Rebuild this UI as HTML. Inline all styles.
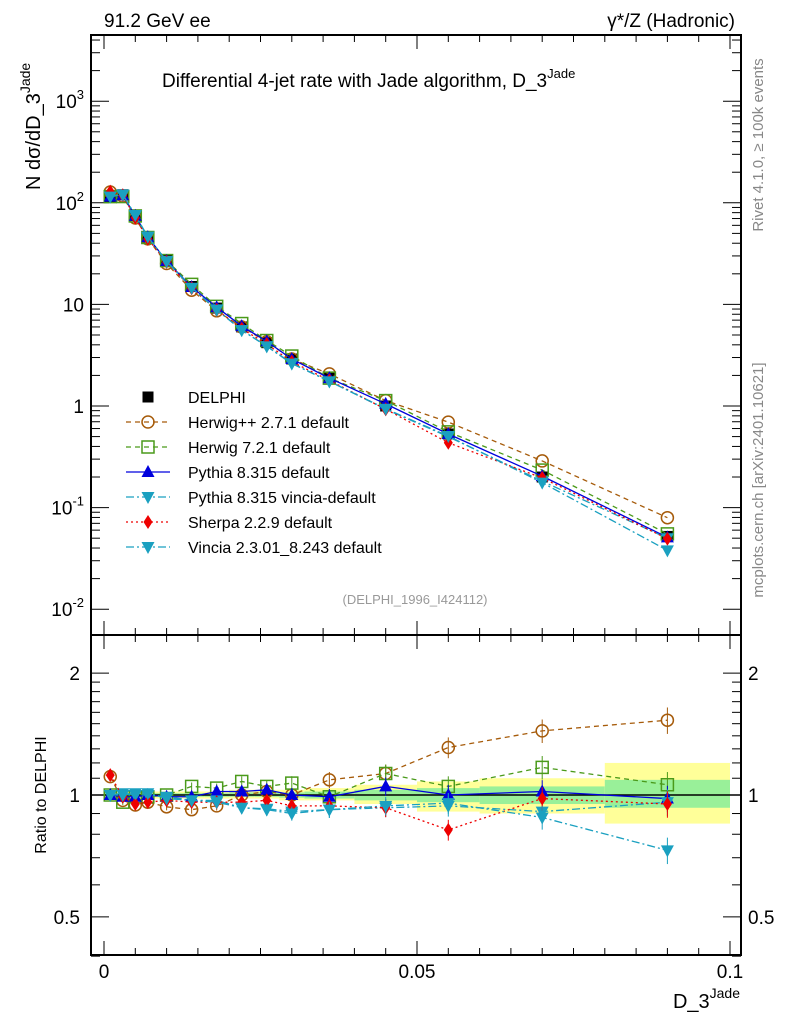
<!DOCTYPE html>
<html><head><meta charset="utf-8"><style>
body{margin:0;background:#fff}
svg{display:block;font-family:"Liberation Sans",sans-serif}
</style></head><body>
<svg id="chart" width="786" height="1024" viewBox="0 0 786 1024" xmlns="http://www.w3.org/2000/svg">
<g id="bands"></g>
<g id="frames"></g>
<g id="series"></g>
<g id="texts">
<text x="104" y="27" font-size="19">91.2 GeV ee</text>
<text x="735" y="27" font-size="19" text-anchor="end">γ*/Z (Hadronic)</text>
<text x="162" y="87" font-size="19">Differential 4-jet rate with Jade algorithm, D_3<tspan dy="-9" font-size="13">Jade</tspan></text>
<text x="415" y="604" font-size="13" fill="#999" text-anchor="middle">(DELPHI_1996_I424112)</text>
<text transform="translate(763,145) rotate(-90)" font-size="15" fill="#888" text-anchor="middle">Rivet 4.1.0, ≥ 100k events</text>
<text transform="translate(763,480) rotate(-90)" font-size="15" fill="#888" text-anchor="middle">mcplots.cern.ch [arXiv:2401.10621]</text>
<text transform="translate(40,190) rotate(-90)" font-size="20" text-anchor="start">N  dσ/dD_3<tspan dy="-10" font-size="14">Jade</tspan></text>
<text transform="translate(46,795) rotate(-90)" font-size="16" text-anchor="middle">Ratio to DELPHI</text>
<text x="740" y="1008" font-size="20" text-anchor="end">D_3<tspan dy="-10" font-size="14">Jade</tspan></text>
</g>
<g id="legend"></g>
</svg>
<script>
const NS="http://www.w3.org/2000/svg";
const xCenters=[0.001,0.003,0.005,0.007,0.01,0.014,0.018,0.022,0.026,0.03,0.036,0.045,0.055,0.07,0.09];
const dataVals=[115,120,75,46,27,15,9.2,6.0,4.2,2.9,1.9,1.0,0.53,0.2,0.052];
const bandEdges=[0,0.002,0.004,0.006,0.008,0.012,0.016,0.020,0.024,0.028,0.032,0.040,0.050,0.060,0.080,0.100];
const yellowLo=[0.98,0.98,0.98,0.98,0.98,0.98,0.98,0.98,0.98,0.97,0.97,0.95,0.91,0.9,0.85];
const yellowHi=[1.02,1.02,1.02,1.02,1.02,1.02,1.02,1.03,1.03,1.03,1.04,1.06,1.08,1.1,1.2];
const greenLo=[0.99,0.99,0.99,0.99,0.99,0.99,0.99,0.99,0.99,0.985,0.98,0.97,0.96,0.95,0.93];
const greenHi=[1.01,1.01,1.01,1.01,1.01,1.01,1.01,1.015,1.015,1.015,1.02,1.03,1.04,1.05,1.09];
const herwigPPRatio=[1.11,0.97,0.945,0.96,0.935,0.92,0.94,1.0,1.02,1.0,1.09,1.13,1.31,1.44,1.53];
const herwig7Ratio=[1.0,0.96,0.99,0.99,1.0,1.05,1.04,1.08,1.05,1.07,0.99,1.13,1.05,1.17,1.06];
const pythiaRatio=[1.0,0.99,0.99,1.0,0.99,0.99,1.02,1.02,1.03,1.0,0.99,1.05,1.0,1.02,0.98];
const pythiaVinciaRatio=[1.0,1.01,1.0,1.0,0.99,0.97,0.97,0.93,0.925,0.91,0.92,0.93,0.94,0.91,0.96];
const sherpaRatio=[1.12,0.99,0.95,0.96,0.97,0.96,0.96,0.96,0.97,0.94,0.94,0.93,0.82,0.98,0.95];
const vinciaRatio=[1.0,1.0,1.01,1.01,0.98,0.97,0.96,0.93,0.92,0.9,0.92,0.94,0.955,0.88,0.73];
const yTickLabels=["10^-2","10^-1","1","10","10^2","10^3"];
const ratioTickLabels=["0.5","1","2"];
const xTickLabels=["0","0.05","0.1"];

const L=91,R=741,T=35,MB=635,RB=955;
const X=v=>104+v*6260;
const Y=v=>406-Math.log10(v)*101.6;
const YR=v=>795-Math.log10(v)*405;

function mk(tag,attrs,parent){const e=document.createElementNS(NS,tag);for(const k in attrs)e.setAttribute(k,attrs[k]);parent.appendChild(e);return e;}
const bands=document.getElementById('bands'),frames=document.getElementById('frames'),series=document.getElementById('series'),legend=document.getElementById('legend');

for(let i=0;i<xCenters.length;i++){
  const x0=X(bandEdges[i]),x1=X(bandEdges[i+1]);
  const y=mk('rect',{x:x0,y:YR(yellowHi[i]),width:x1-x0,height:YR(yellowLo[i])-YR(yellowHi[i]),fill:'#ffff99'},bands);
  
  
  const g=mk('rect',{x:x0,y:YR(greenHi[i]),width:x1-x0,height:YR(greenLo[i])-YR(greenHi[i]),fill:'#99f099'},bands);
  
  
}

mk('rect',{x:L,y:T,width:R-L,height:MB-T,fill:'none',stroke:'#000','stroke-width':2},frames);
mk('rect',{x:L,y:MB,width:R-L,height:RB-MB,fill:'none',stroke:'#000','stroke-width':2},frames);
mk('line',{x1:L,x2:R,y1:YR(1),y2:YR(1),stroke:'#000','stroke-width':1.5},frames);
for(let k=0;k<=20;k++){const v=k*0.005,x=X(v);const len=(k%10==0)?14:7;
  for(const [yb,yt] of [[MB,T],[RB,MB]]){mk('line',{x1:x,x2:x,y1:yb,y2:yb-len,stroke:'#000'},frames);mk('line',{x1:x,x2:x,y1:yt,y2:yt+len,stroke:'#000'},frames);}
}
xTickLabels.forEach((t,i)=>{const e=mk('text',{x:X(i*0.05),y:978,'font-size':19,'text-anchor':'middle'},frames);e.textContent=t;
  
  });
for(let d=-2;d<=3;d++){for(let m=1;m<10;m++){const v=m*Math.pow(10,d),y=Y(v);if(y<T||y>MB)continue;const len=m==1?18:9;
  mk('line',{x1:L,x2:L+len,y1:y,y2:y,stroke:'#000'},frames);mk('line',{x1:R,x2:R-len,y1:y,y2:y,stroke:'#000'},frames);}}
yTickLabels.forEach((t,i)=>{const d=i-2,y=Y(Math.pow(10,d))+7;const e=mk('text',{x:84,y:y,'font-size':19,'text-anchor':'end'},frames);
  
  
  if(t.includes('^')){const p=t.split('^');e.textContent=p[0];const s=mk('tspan',{dy:-9,'font-size':13},e);s.textContent=p[1];}else e.textContent=t;});
for(const v of [0.4,0.5,0.6,0.7,0.8,0.9,1,2]){const y=YR(v);const len=(v==0.5||v==1||v==2)?18:9;
  mk('line',{x1:L,x2:L+len,y1:y,y2:y,stroke:'#000'},frames);mk('line',{x1:R,x2:R-len,y1:y,y2:y,stroke:'#000'},frames);}
for(const v of [1.1,1.2,1.3,1.4,1.5,1.6,1.7,1.8,1.9]){const y=YR(v);mk('line',{x1:L,x2:L+9,y1:y,y2:y,stroke:'#000'},frames);mk('line',{x1:R,x2:R-9,y1:y,y2:y,stroke:'#000'},frames);}
ratioTickLabels.forEach(t=>{const v=parseFloat(t),y=YR(v)+7;
  const a=mk('text',{x:80,y:y,'font-size':19,'text-anchor':'end'},frames);a.textContent=t;
  
  
  const b=mk('text',{x:748,y:y,'font-size':19},frames);b.textContent=t;
  
  });

function marker(g,type,x,y,c){
  if(type=='circle')mk('circle',{cx:x,cy:y,r:6,fill:'none',stroke:c,'stroke-width':1.5},g);
  else if(type=='square')mk('rect',{x:x-6,y:y-6,width:12,height:12,fill:'none',stroke:c,'stroke-width':1.5},g);
  else if(type=='fsquare')mk('rect',{x:x-5.5,y:y-5.5,width:11,height:11,fill:c},g);
  else if(type=='tri')mk('polygon',{points:`${x},${y-7} ${x-6.5},${y+5} ${x+6.5},${y+5}`,fill:c},g);
  else if(type=='itri')mk('polygon',{points:`${x},${y+7} ${x-6.5},${y-5} ${x+6.5},${y-5}`,fill:c},g);
  else if(type=='diam')mk('polygon',{points:`${x},${y-7} ${x-4.5},${y} ${x},${y+7} ${x+4.5},${y}`,fill:c},g);
}
const dg=mk('g',{},series);


xCenters.forEach((x,i)=>marker(dg,'fsquare',X(x),Y(dataVals[i]),'#000'));

const defs=[
 {name:'herwigpp',label:'Herwig++ 2.7.1 default',r:herwigPPRatio,c:'#a65b0a',dash:'5,4',m:'circle'},
 {name:'herwig7',label:'Herwig 7.2.1 default',r:herwig7Ratio,c:'#4a9a1a',dash:'5,4',m:'square'},
 {name:'pythia',label:'Pythia 8.315 default',r:pythiaRatio,c:'#0000dd',dash:'',m:'tri'},
 {name:'pythia-vincia',label:'Pythia 8.315 vincia-default',r:pythiaVinciaRatio,c:'#1aa0c0',dash:'8,3,2,3',m:'itri'},
 {name:'sherpa',label:'Sherpa 2.2.9 default',r:sherpaRatio,c:'#ee0000',dash:'2,3',m:'diam'},
 {name:'vincia',label:'Vincia 2.3.01_8.243 default',r:vinciaRatio,c:'#1aa0c0',dash:'8,3,2,3',m:'itri'}];
defs.forEach(s=>{
  const g=mk('g',{},series);
  
  
  const main=xCenters.map((x,i)=>X(x)+','+Y(dataVals[i]*s.r[i])).join(' ');
  const rat=xCenters.map((x,i)=>X(x)+','+YR(s.r[i])).join(' ');
  mk('polyline',{points:main,fill:'none',stroke:s.c,'stroke-width':1.3,'stroke-dasharray':s.dash},g);
  mk('polyline',{points:rat,fill:'none',stroke:s.c,'stroke-width':1.3,'stroke-dasharray':s.dash},g);
  xCenters.forEach((x,i)=>{const er=0.015+0.06*(i/14)**2;
    mk('line',{x1:X(x),x2:X(x),y1:YR(s.r[i]*(1+er)),y2:YR(s.r[i]*(1-er)),stroke:s.c},g);
    marker(g,s.m,X(x),Y(dataVals[i]*s.r[i]),s.c);marker(g,s.m,X(x),YR(s.r[i]),s.c);});
});

const legItems=[{label:'DELPHI',c:'#000',m:'fsquare',dash:null}].concat(defs.map(s=>({label:s.label,c:s.c,m:s.m,dash:s.dash})));
legItems.forEach((it,i)=>{const y=397+i*25;const g=mk('g',{},legend);
  
  
  if(it.dash!==null)mk('line',{x1:126,x2:170,y1:y,y2:y,stroke:it.c,'stroke-width':1.3,'stroke-dasharray':it.dash},g);
  marker(g,it.m,148,y,it.c);
  const t=mk('text',{x:188,y:y+6,'font-size':16},g);t.textContent=it.label;});
</script>
</body></html>
